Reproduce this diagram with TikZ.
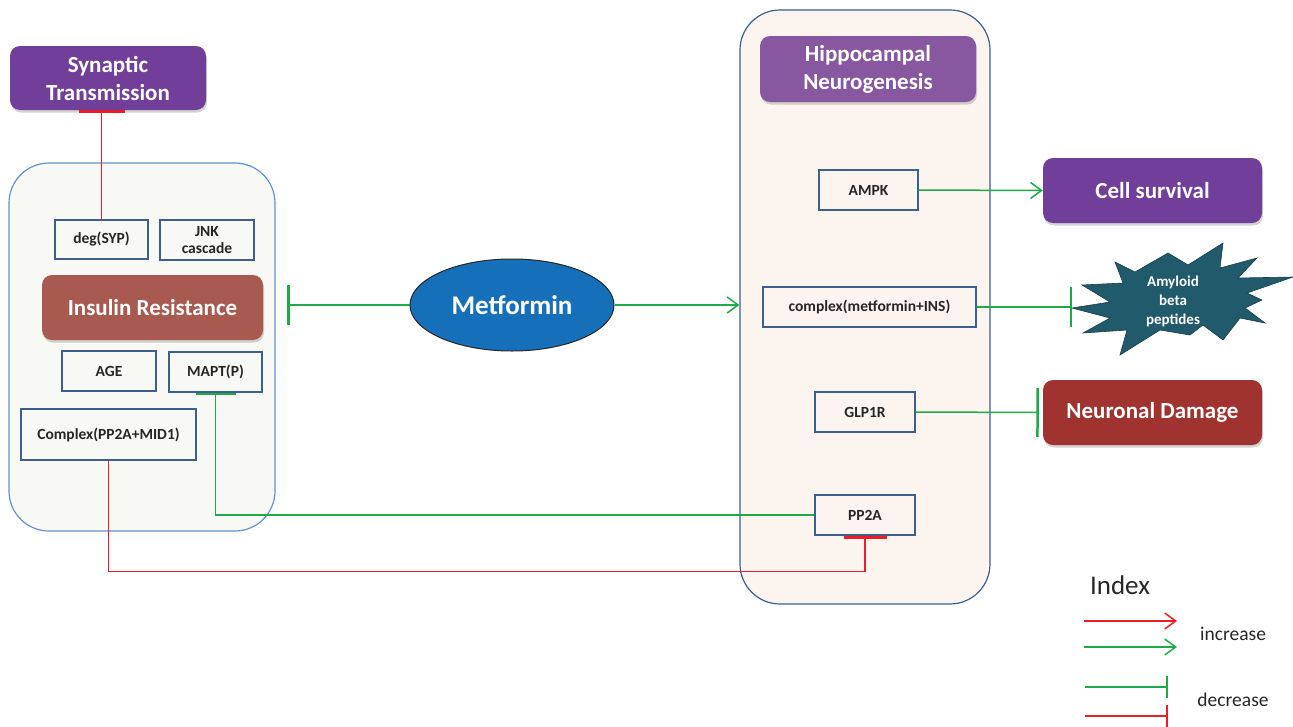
\documentclass[tikz,border=0pt]{standalone}
\usepackage{fontspec}
\setmainfont{Carlito}
\usetikzlibrary{arrows.meta,shadows,shapes.geometric,calc}

\definecolor{topicpurple}{RGB}{113,62,153}
\definecolor{hippopurple}{RGB}{135,88,160}
\definecolor{insulinred}{RGB}{168,90,80}
\definecolor{damagered}{RGB}{160,50,48}
\definecolor{metblue}{RGB}{22,112,185}
\definecolor{amyteal}{RGB}{33,90,106}
\definecolor{leftfill}{RGB}{248,248,244}
\definecolor{leftedge}{RGB}{100,145,205}
\definecolor{rightfill}{RGB}{252,244,238}
\definecolor{boxedge}{RGB}{60,95,140}
\definecolor{actgreen}{RGB}{30,170,70}
\definecolor{inhred}{RGB}{235,30,40}

\begin{document}
\begin{tikzpicture}[x=1pt,y=-1pt,
  container/.style={draw, rounded corners=40pt, line width=1.2pt, inner sep=0pt},
  genebox/.style={draw=boxedge, line width=1.3pt, inner sep=0pt, align=center,
    text=black!85, font=\bfseries\fontsize{15.5}{17}\selectfont},
  topic/.style={rounded corners=10pt, inner sep=0pt, align=center, text=white,
    font=\bfseries\fontsize{23}{28}\selectfont,
    drop shadow={opacity=0.35, shadow xshift=1pt, shadow yshift=-2.5pt}},
  upreg/.style={draw=actgreen, line width=1.5pt,
    -{Straight Barb[length=11pt,width=16pt,line width=1.5pt]}},
  inhibit/.style={line width=1.5pt, -{Bar[width=40pt,line width=2.5pt]}},
  greeninh/.style={inhibit, draw=actgreen},
  redinh/.style={inhibit, draw=inhred, -{Bar[width=46pt,line width=3pt]}},
  legendtext/.style={font=\fontsize{19.5}{22}\selectfont, text=black!85}
]
\useasboundingbox (0,0) rectangle (1293,726);

% compartments
\node[container, draw=leftedge, fill=leftfill, minimum width=266pt, minimum height=368pt]
  (leftbox) at (142,347) {};
\node[container, draw=boxedge, fill=rightfill, minimum width=250pt, minimum height=594pt]
  (rightbox) at (865,307) {};

% left compartment: insulin resistance
\node[topic, fill=topicpurple, minimum width=196pt, minimum height=64pt]
  (syn) at (108,78) {Synaptic\\Transmission};
\node[genebox, fill=leftfill, minimum width=93pt, minimum height=39pt]
  (deg) at (101.5,239.5) {deg(SYP)};
\node[genebox, fill=leftfill, minimum width=94pt, minimum height=40pt]
  (jnk) at (207,240) {JNK\\cascade};
\node[topic, fill=insulinred, minimum width=221pt, minimum height=65pt]
  (ir) at (152.5,307.5) {Insulin Resistance};
\node[genebox, fill=leftfill, minimum width=94pt, minimum height=40pt]
  (age) at (109,371) {AGE};
\node[genebox, fill=leftfill, minimum width=93pt, minimum height=40pt]
  (mapt) at (215.5,372) {MAPT(P)};
\node[genebox, fill=leftfill, minimum width=175pt, minimum height=51pt]
  (cplx) at (108.5,434.5) {Complex(PP2A+MID1)};

% drug
\node[ellipse, draw=black!85, line width=1pt, fill=metblue, minimum width=204pt,
  minimum height=92pt, inner sep=0pt, text=white, font=\bfseries\fontsize{27}{30}\selectfont]
  (met) at (512,305) {Metformin};

% right compartment: hippocampal neurogenesis
\node[topic, fill=hippopurple, minimum width=216pt, minimum height=66pt]
  (hippo) at (868,69) {Hippocampal\\Neurogenesis};
\node[genebox, fill=rightfill, minimum width=99pt, minimum height=40pt]
  (ampk) at (868.5,190) {AMPK};
\node[genebox, fill=rightfill, minimum width=213pt, minimum height=40pt]
  (cins) at (869.5,307) {complex(metformin+INS)};
\node[genebox, fill=rightfill, minimum width=100pt, minimum height=40pt]
  (glp) at (865,412) {GLP1R};
\node[genebox, fill=rightfill, minimum width=100pt, minimum height=40pt]
  (pp2a) at (865,515) {PP2A};

% outcomes
\node[topic, fill=topicpurple, minimum width=219pt, minimum height=65pt]
  (cell) at (1152.5,190.5) {Cell survival};
\node[topic, fill=damagered, minimum width=219pt, minimum height=65pt]
  (damage) at (1152.5,412.5) {Neuronal Damage};
\fill[amyteal, draw=amyteal!70!black, line width=0.6pt]
  (1072,308) -- (1110,302) -- (1082,285) -- (1123,283) -- (1115,262) -- (1135,272)
  -- (1168,253) -- (1188,265) -- (1223,243) -- (1220,268) -- (1257,258) -- (1238,278)
  -- (1293,277) -- (1247,293) -- (1262,300) -- (1245,308) -- (1265,323) -- (1240,318)
  -- (1223,340) -- (1203,325) -- (1190,335) -- (1160,330) -- (1120,355) -- (1127,330)
  -- (1083,333) -- (1110,318) -- cycle;
\node[align=center, text=white, font=\bfseries\fontsize{15}{19}\selectfont]
  (amy) at (1173,301) {Amyloid\\beta\\peptides};
\coordinate (amytip) at (1072,308);

% metformin effects
\coordinate (irbar) at (287,305);
\draw[greeninh] (met.west) -- (irbar);
\draw[upreg] (met.east) -- (met.east -| rightbox.west);

% regulation inside and between compartments
\draw[redinh] (deg.north) -- (deg.north |- syn.south);
\draw[upreg] (ampk.east) -- (cell.west);
\draw[greeninh] (cins.east) -- (cins.east -| amytip);
\draw[greeninh, -{Bar[width=49pt,line width=2.5pt]}, shorten >=4pt] (glp.east) -- (damage.west);
\draw[greeninh] (pp2a.west) -| (mapt.south);
\draw[redinh, -{Bar[width=43pt,line width=3pt]}] (cplx.south) -- ++(0,111) -| (pp2a.south);

% index
\node[font=\fontsize{27}{30}\selectfont, text=black!85] (idx) at (1120,585) {Index};
\coordinate (la1) at (1084,621); \coordinate (lb1) at (1177,621);
\coordinate (la2) at (1084,647); \coordinate (lb2) at (1177,647);
\coordinate (la3) at (1085,687); \coordinate (lb3) at (1168,687);
\coordinate (la4) at (1085,716); \coordinate (lb4) at (1168,716);
\draw[upreg, draw=inhred] (la1) -- (lb1);
\draw[upreg] (la2) -- (lb2);
\draw[draw=actgreen, line width=1.5pt, -{Bar[width=22pt,line width=2pt]}] (la3) -- (lb3);
\draw[draw=inhred, line width=1.5pt, -{Bar[width=22pt,line width=2pt]}] (la4) -- (lb4);
\node[legendtext] (inc) at (1233,634) {increase};
\node[legendtext] (dec) at (1233,700) {decrease};
\end{tikzpicture}
\end{document}
